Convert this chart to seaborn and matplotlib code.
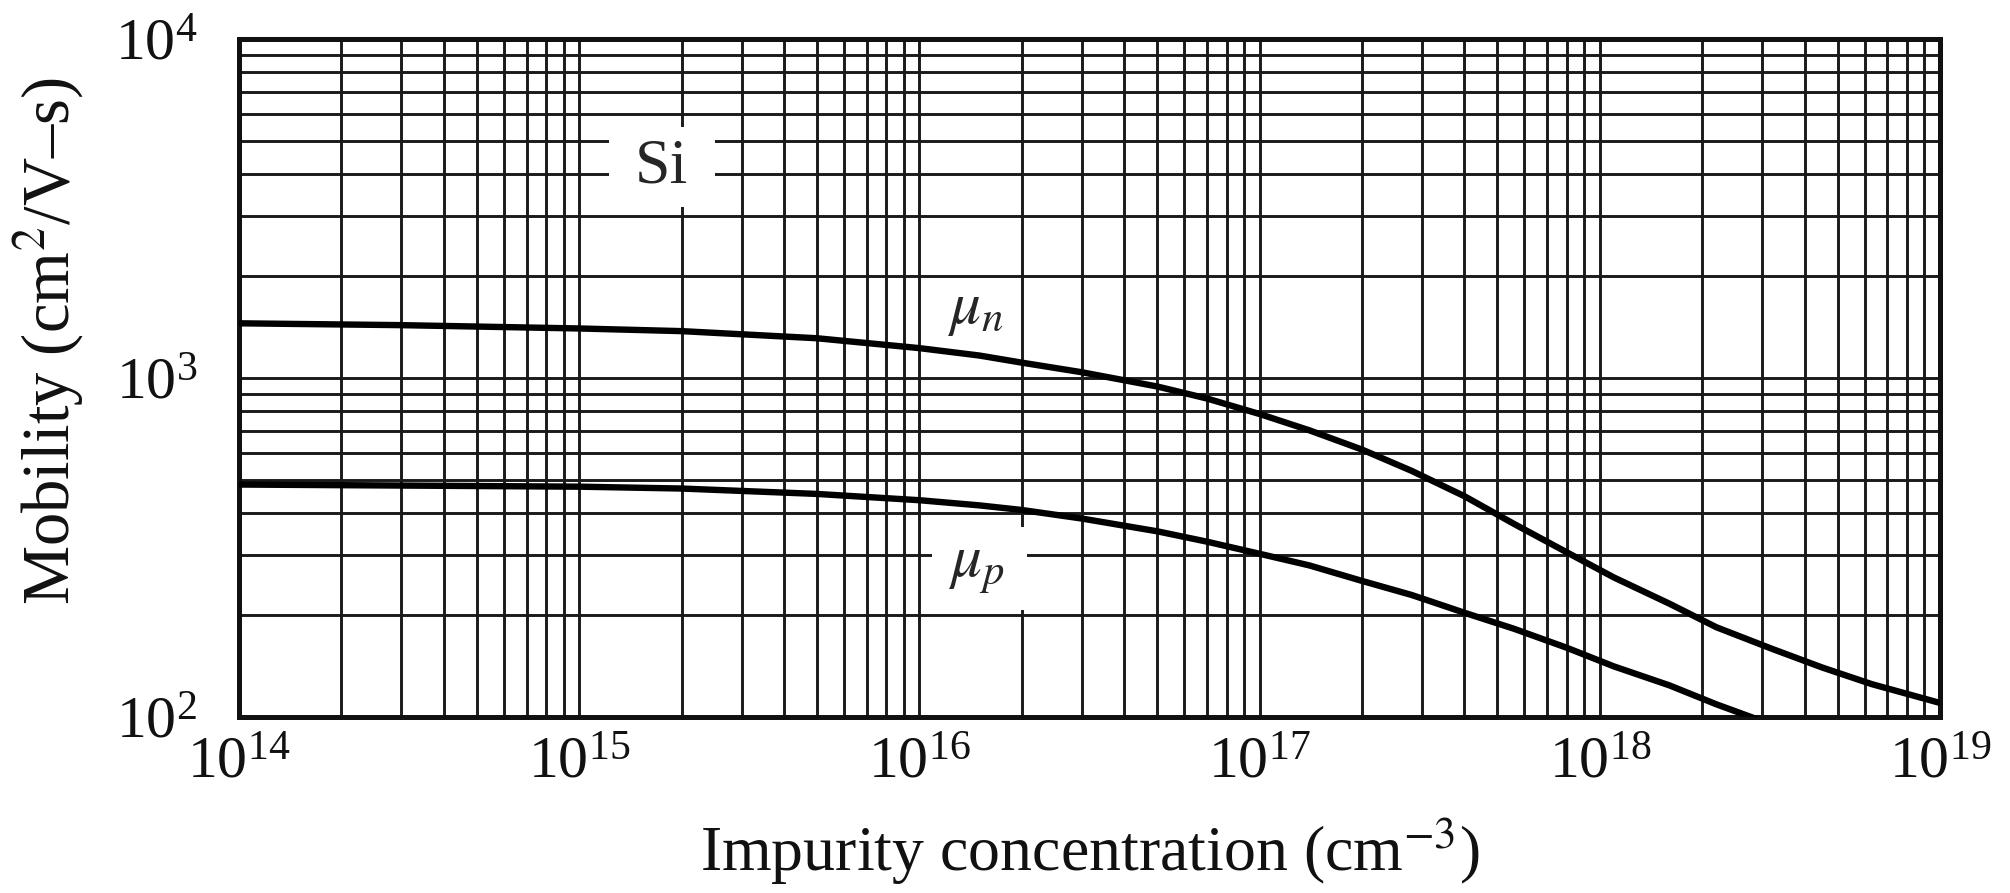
import numpy as np
import pandas as pd
import matplotlib
matplotlib.use("Agg")
import matplotlib.pyplot as plt
import seaborn as sns
from matplotlib.patches import Rectangle
from matplotlib.ticker import LogLocator, NullFormatter

# ─── Data (Si carrier mobility vs. doping) ────────────────────────────────────
conc_n = [1e14, 3e14, 1e15, 2e15, 5e15, 1e16, 1.5e16, 2e16, 3e16, 5e16,
          7e16, 1e17, 1.4e17, 2e17, 2.8e17, 4e17, 5.6e17, 8e17, 1.1e18,
          1.6e18, 2.2e18, 3.2e18, 4.5e18, 6.3e18, 1e19]
mob_n = [1450, 1432, 1400, 1375, 1310, 1225, 1165, 1110, 1040, 944,
         870, 783, 701, 615, 532, 448, 371, 306, 258,
         216, 184, 159, 140, 125, 110]

conc_p = [1e14, 1e15, 2e15, 5e15, 1e16, 1.5e16, 2e16, 3e16, 5e16, 7e16,
          1e17, 1.4e17, 2e17, 2.8e17, 4e17, 5.6e17, 8e17, 1.1e18, 1.6e18,
          2.2e18, 3.2e18]
mob_p = [485, 478, 472, 455, 436, 421, 408, 385, 353, 329,
         303, 280, 252, 229, 203, 182, 160, 141, 124,
         109, 95]

x_ticks = [1e14, 1e15, 1e16, 1e17, 1e18, 1e19]
y_ticks = [1e2, 1e3, 1e4]

X_LABEL = "Impurity concentration (cm$^{-3}$)"
Y_LABEL = "Mobility (cm$^2$/V\u2013s)"

df = pd.concat([
    pd.DataFrame({"conc": conc_n, "mobility": mob_n, "carrier": "n"}),
    pd.DataFrame({"conc": conc_p, "mobility": mob_p, "carrier": "p"}),
])

# ─── Style ────────────────────────────────────────────────────────────────────
sns.set_style("white")
plt.rcParams["font.family"] = ["Liberation Serif", "DejaVu Serif"]
plt.rcParams["mathtext.fontset"] = "stix"

fig = plt.figure(figsize=(20.1, 8.93), dpi=100)
ax = fig.add_axes([0.1189, 0.1971, 0.8463, 0.7592])

sns.lineplot(data=df, x="conc", y="mobility", hue="carrier",
             palette={"n": "black", "p": "black"}, legend=False,
             linewidth=4.6, ax=ax, zorder=5, sort=True)

ax.set_xscale("log")
ax.set_yscale("log")
ax.set_xlim(1e14, 1e19)
ax.set_ylim(1e2, 1e4)
ax.set_xticks(x_ticks)
ax.set_yticks(y_ticks)
ax.xaxis.set_minor_locator(LogLocator(base=10, subs=np.arange(2, 10)))
ax.yaxis.set_minor_locator(LogLocator(base=10, subs=np.arange(2, 10)))
ax.xaxis.set_minor_formatter(NullFormatter())
ax.yaxis.set_minor_formatter(NullFormatter())

ax.grid(which="both", color="#1a1a1a", linewidth=2.1)
ax.set_axisbelow(True)
for s in ax.spines.values():
    s.set_linewidth(3.6)
    s.set_color("#111111")

ax.tick_params(which="both", length=0, labelsize=43, colors="#111111")
ax.tick_params(axis="x", pad=14)
ax.tick_params(axis="y", pad=30)

ax.set_xlabel(X_LABEL, fontsize=46, color="#111111")
ax.set_ylabel(Y_LABEL, fontsize=48, color="#111111")
ax.xaxis.set_label_coords(0.5, -0.145)
ax.yaxis.set_label_coords(-0.09, 0.555)

# ─── Curve / material labels (white knock-out boxes over the grid) ───────────
for x0, y0, w, h in [(0.2175, 0.752, 0.0623, 0.118), (0.4074, 0.158, 0.0559, 0.122)]:
    ax.add_patch(Rectangle((x0, y0), w, h, transform=ax.transAxes,
                           facecolor="white", edgecolor="none", zorder=3))

ax.text(1.75e15, 4190, "Si", fontsize=46, ha="center", va="center", zorder=6)
ax.text(1.46e16, 1585, r"$\mu_n$", fontsize=44, ha="center", va="center",
        zorder=6)
ax.text(1.47e16, 277, r"$\mu_p$", fontsize=44, ha="center", va="center",
        zorder=6)

fig.savefig("out.png", dpi=100)
